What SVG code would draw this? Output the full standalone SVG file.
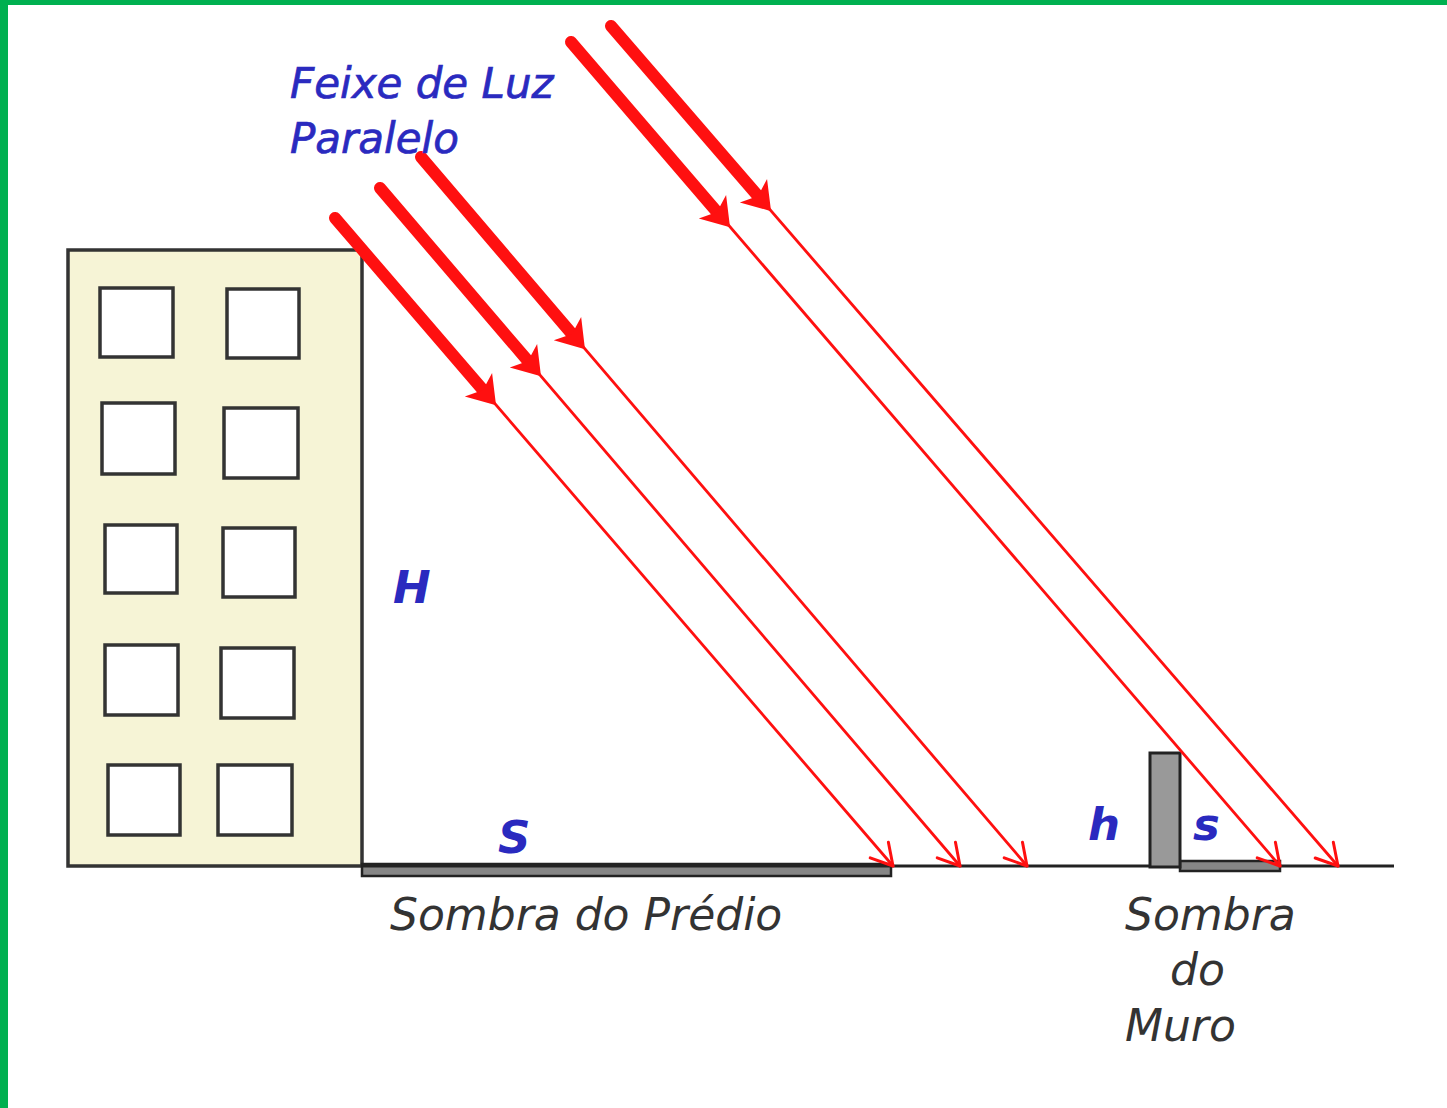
<svg xmlns="http://www.w3.org/2000/svg" width="1447" height="1108" viewBox="0 0 1447 1108">
  <style>
    .frame { fill: #00b050; }
    .wall { fill: #f6f4d6; stroke: #333; stroke-width: 3.5; }
    .win { fill: #fff; stroke: #333; stroke-width: 3.5; }
    .ground { stroke: #222; stroke-width: 3; fill: none; }
    .shade { fill: #868686; stroke: #222; stroke-width: 2.5; }
    .post { fill: #999; stroke: #222; stroke-width: 3; }
    .beam { stroke: #ff1010; fill: none; stroke-linecap: round; }
    .thick { stroke-width: 12; marker-end: url(#headBig); }
    .thin { stroke-width: 2.8; marker-end: url(#headSmall); }
    .lbl-blue { font-family: "DejaVu Sans", "Noto Sans", sans-serif; font-style: italic; fill: #2a2abf; }
    .title { font-size: 42px; stroke: #2a2abf; stroke-width: 0.7; }
    .lbl-dark { font-family: "DejaVu Sans", "Noto Sans", sans-serif; font-style: italic; fill: #333; font-size: 44px; }
    .sym { font-weight: bold; font-size: 45px; }
  </style>
  <defs>
    <marker id="headBig" markerUnits="userSpaceOnUse" markerWidth="60" markerHeight="60" viewBox="-30 -30 60 60" refX="0" refY="0" orient="auto" overflow="visible">
      <path d="M20,0 L-7,-18 L0,0 L-7,18 Z" fill="#ff1010"/>
    </marker>
    <marker id="headSmall" markerUnits="userSpaceOnUse" markerWidth="60" markerHeight="60" viewBox="-30 -30 60 60" refX="0" refY="0" orient="auto" overflow="visible">
      <path d="M-21,-12 L0,0 L-21,12" fill="none" stroke="#ff1010" stroke-width="3" stroke-linejoin="round" stroke-linecap="round"/>
    </marker>
  </defs>

  <rect width="1447" height="1108" fill="#fff"/>
  <rect class="frame" x="0" y="0" width="1447" height="5"/>
  <rect class="frame" x="0" y="0" width="8" height="1108"/>

  <!-- building with two columns of windows -->
  <g id="building">
    <rect class="wall" x="68" y="250" width="294" height="616"/>
    <rect class="win" x="100" y="288" width="73" height="69"/>
    <rect class="win" x="227" y="289" width="72" height="69"/>
    <rect class="win" x="102" y="403" width="73" height="71"/>
    <rect class="win" x="224" y="408" width="74" height="70"/>
    <rect class="win" x="105" y="525" width="72" height="68"/>
    <rect class="win" x="223" y="528" width="72" height="69"/>
    <rect class="win" x="105" y="645" width="73" height="70"/>
    <rect class="win" x="221" y="648" width="73" height="70"/>
    <rect class="win" x="108" y="765" width="72" height="70"/>
    <rect class="win" x="218" y="765" width="74" height="70"/>
  </g>

  <!-- ground and shadows -->
  <g id="ground">
    <rect class="shade" x="362" y="864" width="529" height="12"/>
    <line class="ground" x1="362" y1="866" x2="1394" y2="866"/>
  </g>
  <g id="wall">
    <rect class="shade" x="1180" y="861" width="100" height="10"/>
    <rect class="post" x="1150" y="753" width="30" height="114"/>
  </g>

  <!-- parallel light rays -->
  <g id="rays">
    <line class="beam thin" x1="335" y1="218" x2="893" y2="866"/>
    <line class="beam thick" x1="335" y1="218" x2="483" y2="390"/>
    <line class="beam thin" x1="380" y1="188" x2="960" y2="866"/>
    <line class="beam thick" x1="380" y1="188" x2="528" y2="361"/>
    <line class="beam thin" x1="421" y1="157" x2="1027" y2="866"/>
    <line class="beam thick" x1="421" y1="157" x2="572" y2="334"/>
    <line class="beam thin" x1="571" y1="42" x2="1280" y2="866"/>
    <line class="beam thick" x1="571" y1="42" x2="717" y2="212"/>
    <line class="beam thin" x1="611" y1="26" x2="1338" y2="866"/>
    <line class="beam thick" x1="611" y1="26" x2="758" y2="196"/>
  </g>

  <!-- labels -->
  <g id="labels">
    <text class="lbl-blue title" x="290" y="98">Feixe de Luz</text>
    <text class="lbl-blue title" x="290" y="153">Paralelo</text>
    <text class="lbl-blue sym" x="393" y="603">H</text>
    <text class="lbl-blue sym" x="498" y="853">S</text>
    <text class="lbl-blue sym" x="1088" y="840">h</text>
    <text class="lbl-blue sym" x="1193" y="840">s</text>
    <text class="lbl-dark" x="390" y="930">Sombra do Prédio</text>
    <text class="lbl-dark" x="1125" y="930">Sombra</text>
    <text class="lbl-dark" x="1170" y="985">do</text>
    <text class="lbl-dark" x="1125" y="1041">Muro</text>
  </g>
</svg>
